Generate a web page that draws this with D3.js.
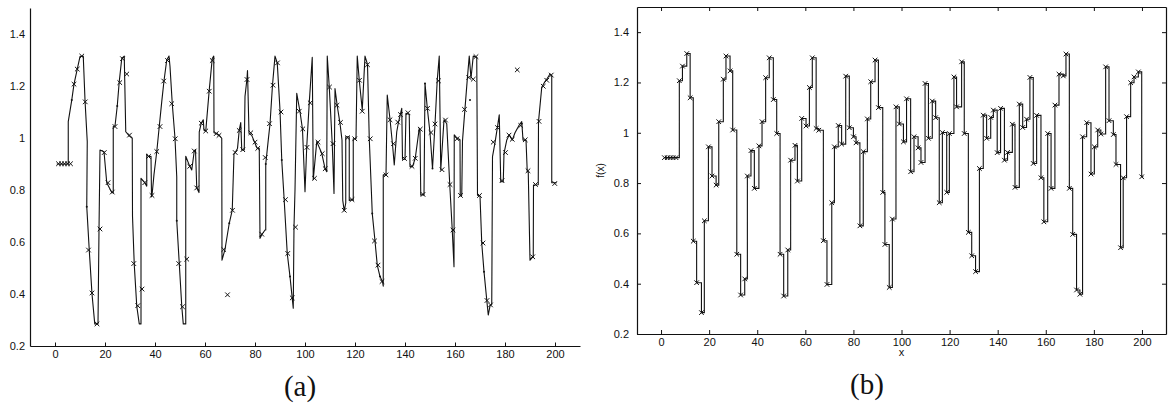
<!DOCTYPE html>
<html><head><meta charset="utf-8">
<script src="https://cdn.jsdelivr.net/npm/d3@7"></script>
<style>
html,body{margin:0;padding:0;background:#fff;}
svg{display:block;}
.tick text,.lbl{font-family:"Liberation Sans",Arial,Helvetica,sans-serif;fill:#111;}
.cap{font-family:"Liberation Serif","Times New Roman",serif;fill:#111;}
</style></head><body>
<svg id="chart" width="1168" height="411"></svg>
<script>
// axis ticks shared by both panels
const xTicks = [0, 20, 40, 60, 80, 100, 120, 140, 160, 180, 200];
const yTicks = [0.2, 0.4, 0.6, 0.8, 1.0, 1.2, 1.4];

// sampled points x and f(x)
const sampleX = [1.4, 2.6, 3.8, 5.0, 6.2,
  7.6, 8.9, 10.7, 12.1, 13.4, 14.8, 16.8, 18.0,
  19.7, 21.2, 22.9, 24.0, 25.9, 27.0, 28.7, 29.8, 31.5, 33.1, 34.8,
  35.9, 37.4, 38.8, 40.7, 42.0, 43.5, 45.0, 46.7, 48.1, 49.5, 51.0, 52.7,
  53.9, 55.7, 56.7, 58.5, 60.3, 61.7, 62.9, 64.5, 65.6, 67.5, 69.0, 71.0,
  72.1, 73.7, 75.1, 76.8, 78.3, 80.0, 81.1, 82.7,
  84.1, 85.8, 87.2, 89.0, 90.4, 92.2, 93.1, 94.9, 96.2,
  97.7, 99.1, 100.8, 102.1, 103.8, 105.2, 106.9, 108.1, 109.8, 111.2, 112.8, 114.2,
  115.7, 117.0, 118.8, 119.9, 121.8, 122.9, 125.0, 126.1, 127.8, 129.2, 130.8,
  132.4, 134.0, 135.4, 137.1, 138.2, 139.8, 141.2, 142.8, 144.1, 146.1, 147.2, 149.0,
  150.4, 152.0, 153.4, 154.8, 156.2, 158.0, 159.2,
  160.8, 162.2, 163.8, 165.5, 167.3, 168.4, 169.8, 171.2, 172.8, 174.2,
  175.3, 177.0, 178.8, 180.2, 181.6, 182.9, 184.9, 186.3, 188.1, 189.2, 191.1,
  192.2, 193.6, 195.3, 196.7, 198.5, 199.9];
const sampleF = [0.901, 0.901, 0.901, 0.901, 0.901,
  1.207, 1.265, 1.315, 1.139, 0.569, 0.404, 0.285, 0.650,
  0.944, 0.828, 0.792, 1.044, 1.213, 1.305, 1.246, 1.011, 0.517, 0.355, 0.419,
  0.828, 0.929, 0.779, 0.948, 1.044, 1.219, 1.298, 1.132, 0.997, 0.517, 0.351, 0.534,
  0.891, 0.950, 0.808, 1.057, 1.027, 1.180, 1.298, 1.017, 1.010, 0.571, 0.397, 0.722,
  0.944, 1.029, 0.955, 1.225, 1.020, 0.984, 0.960, 0.630,
  0.925, 1.055, 1.203, 1.289, 1.100, 0.763, 0.556, 0.385, 0.657,
  1.103, 1.035, 0.964, 1.135, 0.845, 0.984, 0.940, 0.882, 1.196, 0.978, 1.126, 1.060,
  0.722, 1.001, 0.763, 0.997, 1.222, 1.103, 1.282, 0.997, 0.604, 0.511, 0.448,
  0.858, 1.070, 0.978, 1.061, 1.090, 0.921, 1.097, 0.891, 0.922, 1.034, 0.783, 1.114,
  1.021, 1.054, 1.220, 0.878, 1.069, 0.821, 0.646,
  0.997, 0.779, 1.110, 1.233, 1.226, 1.313, 0.779, 0.596, 0.375, 0.358,
  0.984, 1.040, 0.836, 0.944, 1.011, 0.995, 1.262, 1.048, 0.993, 0.874, 0.543,
  0.821, 1.064, 1.199, 1.222, 1.242, 0.825];
const stepEndX = 200.6;

// continuous model response drawn in panel (a)
const modelTrace = [[0.7,0.90],[5.3,0.90],[5.3,1.063],[6.7,1.146],[7.6,1.207],[8.9,1.265],[10.0,1.313],[11.3,1.315],[12.0,1.146],[12.9,0.986],[12.7,0.736],[13.7,0.569],[14.8,0.40],[15.9,0.285],[17.2,0.285],[17.6,0.646],[18.0,0.954],[19.6,0.947],[20.7,0.828],[22.7,0.79],[23.3,0.79],[23.3,1.044],[24.0,1.046],[24.9,1.123],[25.7,1.217],[26.7,1.306],[27.7,1.315],[28.3,1.024],[29.7,1.008],[30.9,0.999],[31.0,0.70],[31.7,0.514],[32.7,0.354],[33.7,0.285],[34.4,0.285],[34.4,0.845],[35.9,0.828],[36.7,0.815],[36.7,0.938],[37.4,0.929],[38.4,0.93],[38.6,0.774],[38.8,0.779],[39.6,0.86],[40.7,0.947],[41.7,1.044],[42.7,1.14],[43.6,1.22],[44.7,1.30],[45.6,1.315],[46.0,1.275],[46.9,1.133],[48.0,0.999],[48.7,0.85],[48.7,0.682],[49.7,0.518],[50.7,0.354],[51.3,0.285],[52.3,0.285],[52.3,0.93],[53.9,0.891],[54.7,0.877],[55.7,0.95],[56.2,0.955],[56.7,0.808],[57.6,0.79],[57.7,1.024],[58.5,1.057],[59.3,1.07],[59.6,1.03],[60.3,1.027],[61.7,1.185],[62.9,1.306],[63.5,1.315],[63.6,1.02],[64.5,1.017],[65.6,1.011],[66.7,0.999],[66.8,0.53],[68.0,0.572],[69.7,0.672],[70.9,0.723],[71.6,0.94],[72.1,0.944],[73.0,0.96],[73.7,1.031],[74.3,1.059],[74.7,0.954],[75.7,0.954],[76.0,1.16],[76.8,1.229],[77.0,1.259],[77.6,1.018],[78.7,1.01],[80.0,0.98],[80.9,0.96],[81.7,0.96],[82.0,0.614],[82.7,0.628],[84.0,0.646],[84.3,0.646],[84.3,0.9],[85.3,0.992],[86.0,1.054],[87.0,1.204],[88.0,1.315],[88.9,1.289],[90.0,1.107],[90.7,0.915],[91.6,0.774],[92.9,0.556],[94.0,0.467],[94.9,0.383],[95.3,0.345],[95.6,0.659],[96.0,0.80],[96.7,1.172],[98.0,1.101],[99.0,1.033],[100.0,0.793],[100.7,0.967],[101.7,1.136],[102.9,1.31],[103.3,0.84],[104.7,0.986],[106.7,0.941],[108.0,0.883],[108.7,0.87],[108.9,1.315],[109.7,1.197],[110.9,0.977],[111.6,0.787],[112.0,1.19],[112.9,1.123],[114.0,1.056],[114.8,0.992],[115.1,0.76],[115.7,0.72],[116.3,0.75],[116.3,1.005],[117.7,1.005],[117.7,0.76],[118.8,0.763],[119.3,0.76],[119.3,0.997],[120.4,0.997],[120.9,1.315],[121.7,1.223],[122.9,1.108],[124.0,1.315],[125.0,1.283],[125.7,0.999],[126.7,0.76],[126.9,0.71],[128.0,0.604],[128.9,0.511],[130.0,0.467],[131.0,0.447],[131.3,0.43],[131.3,0.858],[132.4,0.858],[132.9,1.165],[134.0,1.072],[135.0,0.976],[135.7,0.896],[136.7,1.024],[137.3,1.056],[138.7,1.114],[139.0,0.918],[140.0,0.918],[140.4,1.095],[141.7,1.09],[142.0,0.89],[143.0,0.89],[144.1,0.922],[145.7,1.037],[146.0,1.03],[146.3,0.78],[147.2,0.783],[147.6,0.78],[148.0,1.21],[148.9,1.117],[150.0,1.02],[151.0,0.883],[152.0,1.054],[152.9,1.223],[153.7,1.315],[154.3,0.877],[155.6,1.07],[156.7,1.055],[157.9,0.82],[158.9,0.646],[159.6,0.505],[159.7,1.012],[160.8,1.0],[162.0,0.993],[162.1,0.777],[162.7,0.78],[163.0,0.99],[164.0,1.114],[165.0,1.236],[165.7,1.315],[166.4,1.23],[167.3,1.315],[168.7,1.31],[169.0,0.78],[170.0,0.777],[170.7,0.595],[171.6,0.486],[172.7,0.377],[173.3,0.319],[174.0,0.354],[174.7,0.36],[175.0,0.928],[176.0,0.982],[177.0,1.044],[177.7,1.089],[178.3,0.832],[179.3,0.832],[179.6,0.941],[180.7,0.992],[181.7,1.012],[182.9,0.992],[184.0,1.02],[185.7,1.05],[186.7,1.063],[187.2,0.992],[188.4,0.992],[188.9,0.87],[189.3,0.87],[190.0,0.53],[190.9,0.541],[191.3,0.541],[191.4,0.819],[192.6,0.819],[193.3,0.82],[193.4,1.063],[194.7,1.195],[196.0,1.217],[196.7,1.226],[198.0,1.246],[198.7,1.24],[198.7,0.828],[200.7,0.828]];

// intermediate evaluation points marked on the model curve
const modelDots = [[6.7,1.146],[12.7,0.736],[24.9,1.123],[48.7,0.682],[69.7,0.672],[84.3,0.90],[90.7,0.915],[94.0,0.467],[126.9,0.71],[130.0,0.467],[148.0,1.21],[151.0,0.883],[166.0,1.146],[171.6,0.486]];

const captions = ["(a)", "(b)"];
const xLabel = "x";
const yLabel = "f(x)";

const fmt = d => String(+d.toFixed(1));
const svg = d3.select("#chart");
const samples = sampleX.map((x, i) => [x, sampleF[i]]);
const crossPath = "M-2.3,-2.3L2.3,2.3M-2.3,2.3L2.3,-2.3";

function styleAxis(g) {
  g.select(".domain").attr("stroke", "#111").attr("stroke-width", 1.2);
  g.selectAll(".tick line").attr("stroke", "#111").attr("stroke-width", 1);
  g.selectAll(".tick text").attr("font-size", 11);
}

// ---------- panel (a): model curve with samples ----------
const xA = d3.scaleLinear().domain([-10, 210]).range([30, 580]);
const yA = d3.scaleLinear().domain([0.2, 1.5]).range([346, 8]);
const pa = svg.append("g");

pa.append("g").attr("transform", `translate(0,${yA(0.2)})`)
  .call(d3.axisBottom(xA).tickValues(xTicks).tickSizeInner(-3.5).tickSizeOuter(0).tickPadding(4).tickFormat(fmt))
  .call(styleAxis);
pa.append("g").attr("transform", `translate(${xA(-10)},0)`)
  .call(d3.axisLeft(yA).tickValues(yTicks).tickSizeInner(0).tickSizeOuter(0).tickPadding(5).tickFormat(fmt))
  .call(styleAxis);

pa.append("path").datum(modelTrace)
  .attr("fill", "none").attr("stroke", "#111").attr("stroke-width", 1.1)
  .attr("stroke-linejoin", "round")
  .attr("d", d3.line().x(d => xA(d[0])).y(d => yA(d[1])));

pa.selectAll("circle.dot").data(modelDots).join("circle").attr("class", "dot")
  .attr("cx", d => xA(d[0])).attr("cy", d => yA(d[1])).attr("r", 1).attr("fill", "#111");

pa.selectAll("path.mk").data(samples).join("path").attr("class", "mk")
  .attr("transform", d => `translate(${xA(d[0])},${yA(d[1])})`)
  .attr("d", crossPath).attr("fill", "none").attr("stroke", "#111").attr("stroke-width", 1);

// ---------- panel (b): piecewise-constant f(x) ----------
const xB = d3.scaleLinear().domain([-10, 210]).range([637, 1166]);
const yB = d3.scaleLinear().domain([0.2, 1.5]).range([334, 7]);
const pb = svg.append("g");

pb.append("g").attr("transform", `translate(0,${yB(0.2)})`)
  .call(d3.axisBottom(xB).tickValues(xTicks).tickSizeInner(-4).tickSizeOuter(0).tickPadding(4).tickFormat(fmt))
  .call(styleAxis);
pb.append("g").attr("transform", `translate(0,${yB(1.5)})`)
  .call(d3.axisTop(xB).tickValues(xTicks).tickSizeInner(-4).tickSizeOuter(0).tickFormat(""))
  .call(styleAxis);
pb.append("g").attr("transform", `translate(${xB(-10)},0)`)
  .call(d3.axisLeft(yB).tickValues(yTicks).tickSizeInner(-4).tickSizeOuter(0).tickPadding(8).tickFormat(fmt))
  .call(styleAxis);
pb.append("g").attr("transform", `translate(${xB(210)},0)`)
  .call(d3.axisRight(yB).tickValues(yTicks).tickSizeInner(-4).tickSizeOuter(0).tickFormat(""))
  .call(styleAxis);

const stepData = samples.concat([[stepEndX, sampleF[sampleF.length - 1]]]);
pb.append("path").datum(stepData)
  .attr("fill", "none").attr("stroke", "#111").attr("stroke-width", 1.1)
  .attr("d", d3.line().curve(d3.curveStepAfter).x(d => xB(d[0])).y(d => yB(d[1])));

pb.selectAll("path.mk").data(samples).join("path").attr("class", "mk")
  .attr("transform", d => `translate(${xB(d[0])},${yB(d[1])})`)
  .attr("d", crossPath).attr("fill", "none").attr("stroke", "#111").attr("stroke-width", 1);

pb.append("text").attr("class", "lbl").attr("font-size", 10)
  .attr("text-anchor", "middle")
  .attr("transform", `translate(604,${yB(0.85)}) rotate(-90)`).text(yLabel);
pb.append("text").attr("class", "lbl").attr("font-size", 11)
  .attr("text-anchor", "middle").attr("x", xB(100)).attr("y", 356).text(xLabel);

// ---------- captions ----------
svg.append("text").attr("class", "cap").attr("font-size", 29).attr("text-anchor", "middle")
  .attr("x", 300).attr("y", 396).text(captions[0]);
svg.append("text").attr("class", "cap").attr("font-size", 29).attr("text-anchor", "middle")
  .attr("x", 867).attr("y", 394).text(captions[1]);
</script>
</body></html>
